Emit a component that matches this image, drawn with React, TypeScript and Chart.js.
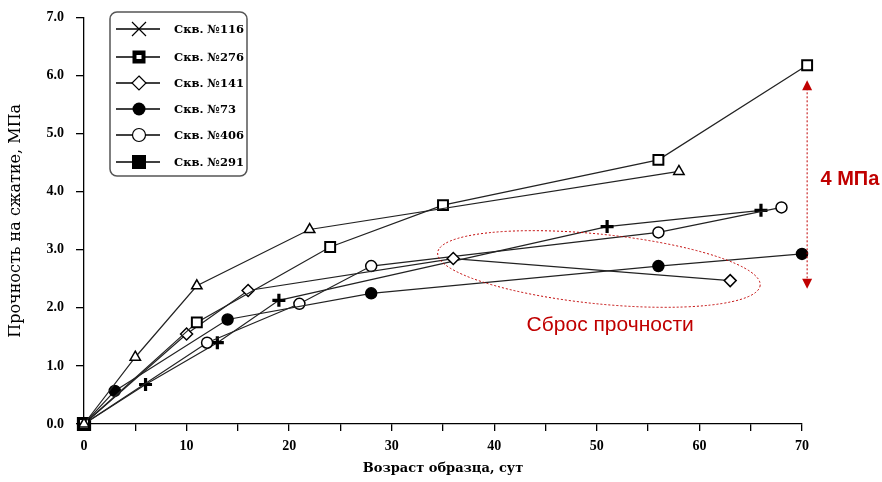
import React, { useEffect, useRef } from 'react';
import { Chart, registerables } from 'chart.js';

Chart.register(...registerables);

// ---- data ----
const legendLabels = ['Скв. №116', 'Скв. №276', 'Скв. №141', 'Скв. №73', 'Скв. №406', 'Скв. №291'];

const age116 = [0, 6, 13, 19, 51, 66];
const str116 = [0, 0.68, 1.4, 2.13, 3.4, 3.68];

const age276 = [0, 11, 24, 35, 56, 70.5];
const str276 = [0, 1.75, 3.05, 3.77, 4.55, 6.18];

const age141 = [0, 10, 16, 36, 63];
const str141 = [0, 1.55, 2.3, 2.85, 2.47];

const age73 = [0, 3, 14, 28, 56, 70];
const str73 = [0, 0.57, 1.8, 2.25, 2.72, 2.93];

const age406 = [0, 12, 21, 28, 56, 68];
const str406 = [0, 1.4, 2.07, 2.72, 3.3, 3.73];

const age291 = [0];
const str291 = [0];

const ageTri = [0, 5, 11, 22, 58];
const strTri = [0, 1.15, 2.38, 3.35, 4.35];

const xTitle = 'Возраст образца, сут';
const yTitle = 'Прочность на сжатие, МПа';
const dropText = 'Сброс прочности';
const deltaText = '4 МПа';

const toPts = (xs: number[], ys: number[]) => xs.map((v, i) => ({ x: v, y: ys[i] }));

const RED = '#c00000';
const SERIF = '"Liberation Serif", "DejaVu Serif", serif';
const WIDE = '"DejaVu Serif", "Liberation Serif", serif';

const annotPlugin = {
  id: 'annot',
  afterDraw(chart: any) {
    const { ctx, scales } = chart;
    const xs = scales.x;
    const ys = scales.y;
    ctx.save();

    // ellipse
    const cx = xs.getPixelForValue(50.2);
    const cy = ys.getPixelForValue(2.67);
    const rx = xs.getPixelForValue(50.2 + 15.8) - cx;
    const ry = ys.getPixelForValue(2.67 - 0.6) - cy;
    ctx.strokeStyle = RED;
    ctx.lineWidth = 1;
    ctx.setLineDash([2, 2]);
    ctx.beginPath();
    ctx.ellipse(cx, cy, rx, ry, (5.8 * Math.PI) / 180, 0, Math.PI * 2);
    ctx.stroke();

    // vertical arrow
    const ax = xs.getPixelForValue(70.5);
    const ay1 = ys.getPixelForValue(5.92);
    const ay2 = ys.getPixelForValue(2.33);
    ctx.beginPath();
    ctx.moveTo(ax, ay1 + 8);
    ctx.lineTo(ax, ay2 - 8);
    ctx.stroke();
    ctx.setLineDash([]);
    ctx.fillStyle = RED;
    ctx.beginPath();
    ctx.moveTo(ax, ay1);
    ctx.lineTo(ax - 5, ay1 + 10);
    ctx.lineTo(ax + 5, ay1 + 10);
    ctx.closePath();
    ctx.fill();
    ctx.beginPath();
    ctx.moveTo(ax, ay2);
    ctx.lineTo(ax - 5, ay2 - 10);
    ctx.lineTo(ax + 5, ay2 - 10);
    ctx.closePath();
    ctx.fill();

    // texts
    ctx.font = 'bold 20px "Liberation Sans", Arial, sans-serif';
    ctx.textAlign = 'left';
    ctx.textBaseline = 'middle';
    ctx.fillText(deltaText, xs.getPixelForValue(71.8), ys.getPixelForValue(4.21));
    ctx.font = '21px "Liberation Sans", Arial, sans-serif';
    ctx.textAlign = 'center';
    ctx.fillText(dropText, xs.getPixelForValue(51.3), ys.getPixelForValue(1.7));

    // legend box
    const bx = 110, by = 12, bw = 137, bh = 164, r = 7;
    ctx.fillStyle = '#fff';
    ctx.strokeStyle = '#555';
    ctx.lineWidth = 1.5;
    ctx.beginPath();
    ctx.roundRect(bx, by, bw, bh, r);
    ctx.fill();
    ctx.stroke();

    const rowsY = [29, 57, 83, 109, 135, 162];
    const mx = 139;
    legendLabels.forEach((lab, i) => {
      const yy = rowsY[i];
      ctx.strokeStyle = '#000';
      ctx.lineWidth = 1.3;
      ctx.beginPath();
      ctx.moveTo(116, yy);
      ctx.lineTo(160, yy);
      ctx.stroke();
      ctx.fillStyle = '#000';
      if (i === 0) {
        ctx.lineWidth = 1.2;
        ctx.beginPath();
        ctx.moveTo(mx - 7, yy - 7);
        ctx.lineTo(mx + 7, yy + 7);
        ctx.moveTo(mx + 7, yy - 7);
        ctx.lineTo(mx - 7, yy + 7);
        ctx.stroke();
      } else if (i === 1) {
        ctx.fillRect(mx - 6.5, yy - 6.5, 13, 13);
        ctx.fillStyle = '#fff';
        ctx.fillRect(mx - 2.5, yy - 2, 5, 4);
      } else if (i === 2) {
        ctx.fillStyle = '#fff';
        ctx.lineWidth = 1.2;
        ctx.beginPath();
        ctx.moveTo(mx, yy - 7);
        ctx.lineTo(mx + 7, yy);
        ctx.lineTo(mx, yy + 7);
        ctx.lineTo(mx - 7, yy);
        ctx.closePath();
        ctx.fill();
        ctx.stroke();
      } else if (i === 3) {
        ctx.beginPath();
        ctx.arc(mx, yy, 6.5, 0, Math.PI * 2);
        ctx.fill();
      } else if (i === 4) {
        ctx.fillStyle = '#fff';
        ctx.lineWidth = 1.2;
        ctx.beginPath();
        ctx.arc(mx, yy, 6.5, 0, Math.PI * 2);
        ctx.fill();
        ctx.stroke();
      } else {
        ctx.fillRect(mx - 7, yy - 7, 14, 14);
      }
      ctx.fillStyle = '#000';
      ctx.font = 'bold 11.5px ' + WIDE;
      ctx.textAlign = 'left';
      ctx.textBaseline = 'middle';
      ctx.fillText(lab, 174, yy + 1);
    });

    ctx.restore();
  },
};

export default function App() {
  const ref = useRef<HTMLCanvasElement | null>(null);

  useEffect(() => {
    if (!ref.current) return;
    const common = {
      showLine: true,
      borderColor: '#222',
      borderWidth: 1.2,
      pointBorderColor: '#000',
      pointBorderWidth: 1.5,
      clip: false as any,
    };
    const chart = new Chart(ref.current, {
      type: 'scatter',
      data: {
        datasets: [
          { ...common, label: 'tri', data: toPts(ageTri, strTri), pointStyle: 'triangle', pointRadius: 6, pointBackgroundColor: '#fff' },
          { ...common, label: legendLabels[1], data: toPts(age276, str276), pointStyle: 'rect', pointRadius: 7, pointBorderWidth: 2, pointBackgroundColor: '#fff' },
          { ...common, label: legendLabels[2], data: toPts(age141, str141), pointStyle: 'rectRot', pointRadius: 6, pointBackgroundColor: '#fff' },
          { ...common, label: legendLabels[3], data: toPts(age73, str73), pointStyle: 'circle', pointRadius: 5.5, pointBackgroundColor: '#000' },
          { ...common, label: legendLabels[4], data: toPts(age406, str406), pointStyle: 'circle', pointRadius: 5.5, pointBackgroundColor: '#fff' },
          { ...common, label: legendLabels[0], data: toPts(age116, str116), pointStyle: 'cross', pointRadius: 6.5, pointBorderWidth: 3.2, pointBackgroundColor: '#000' },
          { ...common, label: legendLabels[5], data: toPts(age291, str291), pointStyle: 'rect', pointRadius: 9, pointBackgroundColor: '#000' },
        ],
      },
      options: {
        responsive: false,
        animation: false,
        layout: { padding: { top: 15, right: 80, left: 0, bottom: 0 } },
        plugins: { legend: { display: false }, tooltip: { enabled: false } },
        scales: {
          x: {
            type: 'linear',
            min: 0,
            max: 70,
            afterFit: (s: any) => { s.height = 58; },
            border: { display: true, color: '#000', width: 1.3 },
            grid: { drawOnChartArea: false, drawTicks: true, tickLength: 7, color: '#000', lineWidth: 1.3 },
            ticks: {
              stepSize: 5,
              autoSkip: false,
              maxRotation: 0,
              color: '#000',
              padding: 7,
              font: { family: SERIF, size: 14, weight: 'bold' },
              callback: (v: any) => (Number(v) % 10 === 0 ? String(v) : ''),
            },
            title: {
              display: true,
              text: xTitle,
              color: '#000',
              font: { family: WIDE, size: 13, weight: 'bold' },
              padding: { top: 2, bottom: 6 },
            },
          },
          y: {
            type: 'linear',
            min: 0,
            max: 7,
            afterFit: (s: any) => { s.width = 84; },
            border: { display: true, color: '#000', width: 1.3 },
            grid: { drawOnChartArea: false, drawTicks: true, tickLength: 8, color: '#000', lineWidth: 1.3 },
            ticks: {
              stepSize: 1,
              color: '#000',
              padding: 12,
              font: { family: SERIF, size: 14, weight: 'bold', lineHeight: 0.8 },
              callback: (v: any) => Number(v).toFixed(1),
            },
            title: {
              display: true,
              text: yTitle,
              color: '#000',
              font: { family: WIDE, size: 16 },
              padding: { top: 6, bottom: 0 },
            },
          },
        },
      },
      plugins: [annotPlugin],
    });
    return () => chart.destroy();
  }, []);

  return (
    <div style={{ position: 'fixed', left: 0, top: 0, width: 882, height: 482, background: '#fff' }}>
      <canvas ref={ref} width={882} height={482} style={{ display: 'block' }} />
    </div>
  );
}
